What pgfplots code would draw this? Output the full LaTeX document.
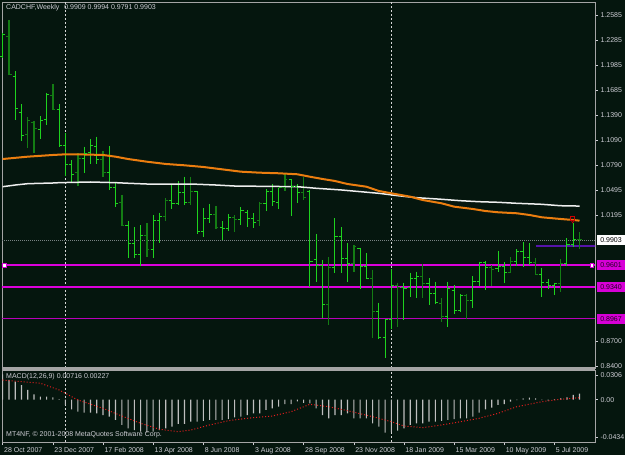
\documentclass[border=0pt]{standalone}
\usepackage{pgfplots}
\pgfplotsset{compat=1.18}
\usepackage{pgfplotstable}
\usepackage{fontspec}
\setmainfont{Liberation Sans}
\definecolor{bg}{RGB}{5,22,14}
\definecolor{frame}{RGB}{165,165,165}
\definecolor{txt}{RGB}{205,205,212}
\definecolor{brgreen}{RGB}{30,210,30}
\definecolor{dkgreen}{RGB}{20,125,20}
\definecolor{maorange}{RGB}{235,125,15}
\definecolor{mawhite}{RGB}{238,238,238}
\definecolor{hmag}{RGB}{215,0,215}
\definecolor{linemag}{RGB}{220,0,220}
\definecolor{linemagdk}{RGB}{185,0,185}
\definecolor{bidgray}{RGB}{120,130,130}
\definecolor{purp}{RGB}{85,20,170}
\definecolor{hist}{RGB}{190,190,190}
\definecolor{sig}{RGB}{230,30,30}
\definecolor{sepc}{RGB}{215,215,215}
\pgfdeclareplotmark{otick}{\pgfpathmoveto{\pgfqpoint{-2.6pt}{0pt}}\pgfpathlineto{\pgfqpoint{0pt}{0pt}}\pgfusepathqstroke}
\pgfdeclareplotmark{ctick}{\pgfpathmoveto{\pgfqpoint{0pt}{0pt}}\pgfpathlineto{\pgfqpoint{2.6pt}{0pt}}\pgfusepathqstroke}
\pgfplotstableread{
i o h l c d
0 1.2088 1.2374 1.2076 1.2347 0
1 1.2323 1.2526 1.1870 1.1878 1
2 1.1850 1.1918 1.1333 1.1473 0
3 1.1420 1.1520 1.1086 1.1143 0
4 1.1163 1.1369 1.0999 1.1333 1
5 1.1309 1.1321 1.0943 1.1226 1
6 1.1222 1.1381 1.1103 1.1325 0
7 1.1342 1.1659 1.1274 1.1640 0
8 1.1631 1.1763 1.1452 1.1464 1
9 1.1464 1.1520 1.1015 1.1035 0
10 1.1035 1.1175 1.0666 1.0797 0
11 1.0797 1.0856 1.0598 1.0689 0
12 1.0710 1.0936 1.0546 1.0877 1
13 1.0880 1.1015 1.0698 1.0928 0
14 1.0940 1.1107 1.0809 1.1035 0
15 1.1023 1.1134 1.0809 1.0868 0
16 1.0868 1.0964 1.0657 1.0713 1
17 1.0713 1.1023 1.0499 1.0534 0
18 1.0534 1.0582 1.0300 1.0340 0
19 1.0344 1.0439 1.0069 1.0081 1
20 1.0081 1.0133 0.9691 0.9855 0
21 0.9855 1.0054 0.9691 0.9724 0
22 0.9724 1.0081 0.9592 0.9962 0
23 0.9962 1.0102 0.9703 0.9795 1
24 0.9795 1.0201 0.9691 1.0129 0
25 1.0129 1.0228 0.9870 1.0177 0
26 1.0177 1.0400 1.0133 1.0368 1
27 1.0368 1.0558 1.0272 1.0332 0
28 1.0332 1.0606 1.0320 1.0466 0
29 1.0463 1.0657 1.0320 1.0344 0
30 1.0344 1.0657 1.0320 1.0475 1
31 1.0475 1.0487 0.9970 0.9998 0
32 0.9998 1.0280 0.9942 1.0153 0
33 1.0153 1.0332 1.0102 1.0201 0
34 1.0201 1.0308 1.0034 1.0046 1
35 1.0046 1.0129 0.9903 1.0034 0
36 1.0034 1.0209 1.0010 1.0165 0
37 1.0165 1.0201 1.0001 1.0141 1
38 1.0141 1.0292 1.0081 1.0260 0
39 1.0236 1.0260 1.0061 1.0153 0
40 1.0153 1.0221 1.0042 1.0117 0
41 1.0129 1.0359 1.0069 1.0332 1
42 1.0332 1.0511 1.0248 1.0475 0
43 1.0475 1.0570 1.0308 1.0356 0
44 1.0344 1.0526 1.0272 1.0523 0
45 1.0523 1.0698 1.0487 1.0618 1
46 1.0618 1.0630 1.0192 1.0546 0
47 1.0546 1.0570 1.0340 1.0463 0
48 1.0463 1.0657 1.0379 1.0412 1
49 1.0478 1.0499 0.9346 0.9652 0
50 0.9664 0.9974 0.9405 0.9604 0
51 0.9604 0.9664 0.8969 0.9139 0
52 0.9139 0.9696 0.8889 0.9569 1
53 0.9569 1.0161 0.9505 0.9950 0
54 0.9950 1.0054 0.9505 0.9676 0
55 0.9676 0.9863 0.9405 0.9628 0
56 0.9628 0.9843 0.9525 0.9819 1
57 0.9807 0.9811 0.9315 0.9581 0
58 0.9581 0.9744 0.9434 0.9438 0
59 0.9438 0.9545 0.8738 0.9044 1
60 0.9044 0.9155 0.8719 0.8734 0
61 0.8734 0.8949 0.8492 0.8949 0
62 0.8949 0.9553 0.8838 0.9354 0
63 0.9354 0.9393 0.8869 0.9342 1
64 0.9342 0.9393 0.8949 0.9330 0
65 0.9342 0.9513 0.9219 0.9449 0
66 0.9449 0.9525 0.9207 0.9473 0
67 0.9473 0.9616 0.9207 0.9378 1
68 0.9378 0.9446 0.9128 0.9259 0
69 0.9259 0.9405 0.9139 0.9163 0
70 0.9151 0.9207 0.8928 0.8996 1
71 0.8996 0.9405 0.8862 0.9330 0
72 0.9306 0.9366 0.9020 0.9056 0
73 0.9056 0.9259 0.9048 0.9235 0
74 0.9235 0.9259 0.8957 0.9187 1
75 0.9187 0.9473 0.9095 0.9402 0
76 0.9402 0.9644 0.9354 0.9640 0
77 0.9640 0.9652 0.9306 0.9569 0
78 0.9569 0.9604 0.9354 0.9545 1
79 0.9557 0.9775 0.9525 0.9592 0
80 0.9592 0.9637 0.9393 0.9509 0
81 0.9509 0.9696 0.9505 0.9652 1
82 0.9652 0.9792 0.9592 0.9771 0
83 0.9771 0.9875 0.9577 0.9688 0
84 0.9688 0.9863 0.9604 0.9640 0
85 0.9640 0.9684 0.9485 0.9497 1
86 0.9497 0.9572 0.9226 0.9390 0
87 0.9390 0.9434 0.9315 0.9354 0
88 0.9354 0.9393 0.9247 0.9378 0
89 0.9378 0.9672 0.9286 0.9628 1
90 0.9628 0.9923 0.9592 0.9843 0
91 0.9843 1.0110 0.9823 0.9905 0
92 0.9909 0.9994 0.9791 0.9903 1
}\bars
\pgfplotstableread{
i v
0 1.0868
4 1.0896
8 1.0916
10 1.0924
12 1.0924
16 1.0916
18 1.0896
20 1.0868
23 1.0836
26 1.0809
29 1.0793
32 1.0773
35 1.0745
38 1.0717
41 1.0705
44 1.0698
47 1.0686
49 1.0657
51 1.0630
53 1.0606
55 1.0570
58 1.0538
60 1.0487
62 1.0459
65 1.0419
67 1.0379
70 1.0340
72 1.0300
75 1.0272
77 1.0248
79 1.0233
82 1.0221
84 1.0201
86 1.0173
89 1.0153
91 1.0141
92 1.0133
}\maorange
\pgfplotstableread{
i v
0 1.0538
2 1.0558
4 1.0574
8 1.0582
9 1.0586
14 1.0594
18 1.0586
20 1.0579
23 1.0570
30 1.0570
34 1.0558
37 1.0546
47 1.0538
50 1.0519
54 1.0499
57 1.0479
60 1.0459
63 1.0431
66 1.0407
70 1.0388
73 1.0371
76 1.0359
79 1.0352
82 1.0340
86 1.0328
89 1.0311
92 1.0307
}\mawhiteT
\pgfplotstableread{
i m
0 0.0300
1 0.0234
2 0.0214
3 0.0174
4 0.0115
5 0.0063
6 0.0035
7 0.0035
8 0.0027
9 0.0007
10 -0.0064
11 -0.0116
12 -0.0144
13 -0.0156
14 -0.0156
15 -0.0164
16 -0.0184
17 -0.0204
18 -0.0243
19 -0.0303
20 -0.0343
21 -0.0363
22 -0.0383
23 -0.0395
24 -0.0383
25 -0.0363
26 -0.0343
27 -0.0323
28 -0.0291
29 -0.0291
30 -0.0264
31 -0.0264
32 -0.0255
33 -0.0243
34 -0.0243
35 -0.0243
36 -0.0232
37 -0.0211
38 -0.0204
39 -0.0184
40 -0.0164
41 -0.0164
42 -0.0124
43 -0.0104
44 -0.0085
45 -0.0053
46 -0.0053
47 -0.0020
48 -0.0040
49 -0.0044
50 -0.0104
51 -0.0184
52 -0.0223
53 -0.0184
54 -0.0184
55 -0.0164
56 -0.0223
57 -0.0223
58 -0.0223
59 -0.0283
60 -0.0323
61 -0.0395
62 -0.0390
63 -0.0371
64 -0.0343
65 -0.0303
66 -0.0283
67 -0.0283
68 -0.0264
69 -0.0264
70 -0.0255
71 -0.0243
72 -0.0232
73 -0.0223
74 -0.0223
75 -0.0204
76 -0.0156
77 -0.0116
78 -0.0097
79 -0.0064
80 -0.0053
81 -0.0025
82 -0.0005
83 0.0016
84 0.0023
85 0.0016
86 -0.0005
87 -0.0013
88 0.0007
89 0.0016
90 0.0027
91 0.0055
92 0.0072
}\macd
\pgfplotstableread{
i s
0 0.0234
6 0.0195
9 0.0115
12 -0.0005
16 -0.0104
19 -0.0196
22 -0.0283
25 -0.0354
28 -0.0383
30 -0.0363
33 -0.0303
36 -0.0252
39 -0.0223
43 -0.0196
46 -0.0144
49 -0.0056
52 -0.0085
55 -0.0132
59 -0.0204
62 -0.0264
64 -0.0315
67 -0.0335
70 -0.0303
73 -0.0264
76 -0.0223
79 -0.0164
82 -0.0085
86 -0.0025
89 0.0004
92 0.0023
}\signal
\pgfplotstableread{
x p
-2 0.9601
96 0.9601
}\lineA
\pgfplotstableread{
x p
-2 0.9340
96 0.9340
}\lineB
\pgfplotstableread{
x p
-2 0.8967
96 0.8967
}\lineC
\begin{document}
\begin{tikzpicture}
\fill[bg] (0pt,0pt) rectangle (625pt,455pt);
\useasboundingbox (0pt,0pt) rectangle (625pt,455pt);
\pgfplotsset{
  mtstyle/.style={
    scale only axis, anchor=south west, width=593pt,
    xmin=-0.11, xmax=94.47,
    axis line style={draw=frame, line width=0.9pt},
    tick style={draw=txt, line width=0.5pt},
    tick align=outside, major tick length=3pt,
    ticklabel style={font=\fontsize{7}{8}\selectfont, text=txt},
    ytick pos=right, yticklabel pos=right,
    y tick label style={anchor=west, xshift=-1pt},
    scaled y ticks=false, scaled x ticks=false,
  },
  hlbar/.style={draw=none, mark=none, forget plot,
    error bars/y dir=minus, error bars/y explicit, error bars/error mark=none},
}
% ---------------- main price pane ----------------
\begin{axis}[mtstyle, at={(2pt,87pt)}, height=366pt,
  ymin=0.83763, ymax=1.27402,
  xtick=\empty,
  ytick={1.2585,1.2285,1.1985,1.1685,1.1390,1.1090,1.0790,1.0495,1.0195,0.8700,0.8400},
  yticklabels={1.2585,1.2285,1.1985,1.1685,1.1390,1.1090,1.0790,1.0495,1.0195,0.8700,0.8400},
]
\addplot[sepc, line width=0.8pt, dash pattern=on 2pt off 2pt] coordinates {(10,0.8) (10,1.3)};
\addplot[sepc, line width=0.8pt, dash pattern=on 2pt off 2pt] coordinates {(62,0.8) (62,1.3)};
\addplot[bidgray, line width=0.8pt, dash pattern=on 1pt off 1pt] coordinates {(-2,0.9903) (96,0.9903)};
\addplot[color=linemag, solid, line width=2pt, mark=none] table[x=x, y=p] {\lineA};
\addplot[color=linemag, solid, line width=1.5pt, mark=none] table[x=x, y=p] {\lineB};
\addplot[color=linemagdk, solid, line width=1.5pt, mark=none] table[x=x, y=p] {\lineC};
\addplot[color=purp, solid, line width=1.2pt] coordinates {(85,0.9831) (96,0.9831)};
% bars: high-low lines
\addplot[restrict expr to domain={\thisrow{d}}{-0.5:0.5}, hlbar,
  error bars/error bar style={draw=brgreen, line width=1pt}]
  table[x=i, y=h, y error expr=\thisrow{h}-\thisrow{l}] {\bars};
\addplot[restrict expr to domain={\thisrow{d}}{0.5:1.5}, hlbar,
  error bars/error bar style={draw=dkgreen, line width=1.4pt}]
  table[x=i, y=h, y error expr=\thisrow{h}-\thisrow{l}] {\bars};
\addplot[only marks, mark=otick, mark options={draw=brgreen, line width=1pt}, restrict expr to domain={\thisrow{d}}{-0.5:0.5}] table[x=i, y=o] {\bars};
\addplot[only marks, mark=ctick, mark options={draw=brgreen, line width=1pt}, restrict expr to domain={\thisrow{d}}{-0.5:0.5}] table[x=i, y=c] {\bars};
\addplot[only marks, mark=otick, mark options={draw=dkgreen, line width=1pt}, restrict expr to domain={\thisrow{d}}{0.5:1.5}] table[x=i, y=o] {\bars};
\addplot[only marks, mark=ctick, mark options={draw=dkgreen, line width=1pt}, restrict expr to domain={\thisrow{d}}{0.5:1.5}] table[x=i, y=c] {\bars};
% moving averages
\addplot[mawhite, line width=1.5pt] table[x=i, y=v] {\mawhiteT};
\addplot[maorange, line width=2pt] table[x=i, y=v] {\maorange};
% objects
\addplot[only marks, mark=square*, mark size=1.6pt, mark options={fill=white, draw=hmag}] coordinates {(0.25,0.9601) (94.0,0.9601)};
\addplot[only marks, mark=square, mark size=2.2pt, mark options={draw=red!80!black, line width=0.8pt}] coordinates {(90.9,1.0160)};
\addplot[only marks, mark=triangle, mark size=1.8pt, mark options={draw=red!80!black, rotate=180, line width=0.6pt}] coordinates {(90.9,1.0128)};
\end{axis}
% ---------------- MACD pane ----------------
\begin{axis}[mtstyle, at={(2pt,13pt)}, height=72pt,
  ymin=-0.05060, ymax=0.03533,
  xtick={0,8,...,88}, xtick pos=bottom,
  xticklabels={28 Oct 2007,23 Dec 2007,17 Feb 2008,13 Apr 2008,8 Jun 2008,3 Aug 2008,28 Sep 2008,23 Nov 2008,18 Jan 2009,15 Mar 2009,10 May 2009,5 Jul 2009},
  x tick label style={anchor=north west, xshift=-2pt, yshift=1pt},
  ytick={0.0294,0,-0.0446},
  yticklabels={0.0306,0.00,-0.0434},
]
\addplot[sepc, line width=0.8pt, dash pattern=on 2pt off 2pt] coordinates {(10,-0.06) (10,0.04)};
\addplot[sepc, line width=0.8pt, dash pattern=on 2pt off 2pt] coordinates {(62,-0.06) (62,0.04)};
\addplot[ybar, bar width=1.1pt, fill=hist, draw=none] table[x=i, y=m] {\macd};
\addplot[sig, line width=1pt, dash pattern=on 1pt off 2pt] table[x=i, y=s] {\signal};
\end{axis}
% pane separator band
\fill[frame] (2pt,85.2pt) rectangle (595pt,87.8pt);
% ---------------- texts and price labels ----------------
\node[anchor=west, text=txt, font=\fontsize{7}{8}\selectfont, inner sep=0pt] at (6pt,447pt) {CADCHF,Weekly\hspace{5pt}0.9909 0.9994 0.9791 0.9903};
\node[anchor=west, text=txt, font=\fontsize{7}{8}\selectfont, inner sep=0pt] at (6pt,78.5pt) {MACD(12,26,9) 0.00716 0.00227};
\node[anchor=west, text=txt, font=\fontsize{7}{8}\selectfont, inner sep=0pt] at (6pt,20pt) {MT4NF, © 2001-2008 MetaQuotes Software Corp.};
\node[fill=white, text=black, font=\fontsize{7}{8}\selectfont, inner sep=0pt, minimum width=28pt, minimum height=10pt] at (611pt,215pt) {0.9903};
\node[fill=hmag, text=black!85!hmag, font=\fontsize{7}{8}\selectfont, inner sep=0pt, minimum width=28pt, minimum height=10pt] at (611pt,189.7pt) {0.9601};
\node[fill=hmag, text=black!85!hmag, font=\fontsize{7}{8}\selectfont, inner sep=0pt, minimum width=28pt, minimum height=10pt] at (611pt,167.8pt) {0.9340};
\node[fill=hmag, text=black!85!hmag, font=\fontsize{7}{8}\selectfont, inner sep=0pt, minimum width=28pt, minimum height=10pt] at (611pt,136.4pt) {0.8967};
\end{tikzpicture}
\end{document}
